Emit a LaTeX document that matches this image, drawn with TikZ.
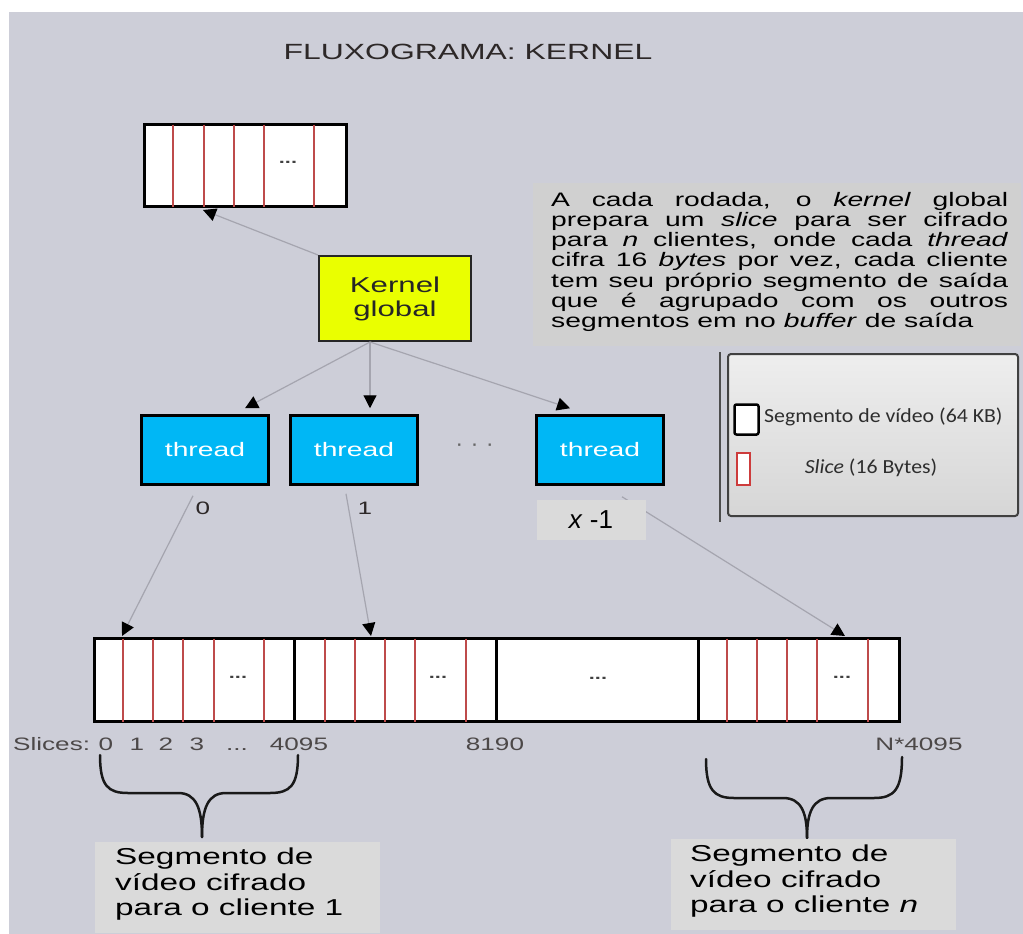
\documentclass[tikz,border=0pt]{standalone}
\usepackage{fontspec}
\setmainfont{Liberation Sans}
\newfontfamily\sw[FakeStretch=1.45]{Liberation Sans}
\newfontfamily\calfont[FakeStretch=1.09]{Carlito}
\usetikzlibrary{arrows.meta,calc}
\definecolor{bgc}{RGB}{205,206,216}
\definecolor{parac}{RGB}{208,208,208}
\definecolor{lboxc}{RGB}{218,218,218}
\definecolor{redl}{RGB}{190,75,75}
\definecolor{linec}{RGB}{165,165,175}
\definecolor{thc}{RGB}{0,183,245}
\definecolor{kerc}{RGB}{234,255,0}
\definecolor{txtc}{RGB}{45,40,40}
\tolerance=10000 \hbadness=10000
\begin{document}
\begin{tikzpicture}[x=1pt,y=-1pt,
  conn/.style={draw=linec, line width=1.2pt, -{Triangle[length=13pt,width=13pt,color=black]}},
  segbox/.style={draw=black, line width=3pt, fill=white, minimum width=#1, minimum height=83pt, inner sep=0pt, anchor=north west},
  redline/.style={draw=redl, line width=2.5pt},
  dotlbl/.style={font=\sw\bfseries\fontsize{15}{18}\selectfont, text=black!75, inner sep=0pt},
  thbox/.style={draw=black, line width=2.5pt, fill=thc, minimum width=127pt, minimum height=69pt, inner sep=0pt, text=white, font=\sw\fontsize{19.5}{22}\selectfont},
  rowlbl/.style={font=\sw\fontsize{18}{20}\selectfont, text=txtc!85!white, anchor=base, inner sep=0pt},
  brace/.style={draw=black!90, line width=2.5pt, line cap=round},
  cbox/.style={fill=lboxc, anchor=north west, minimum width=285pt, minimum height=91pt, inner sep=0pt},
  ctext/.style={anchor=north west, align=left, inner sep=0pt, font=\sw\fontsize{23}{25.5}\selectfont, text=black}
]
\useasboundingbox (0,0) rectangle (1023,934);
\fill[bgc] (9,12) rectangle (1023,934);

% title
\node[font=\sw\fontsize{22}{26}\selectfont, text=txtc] (title) at (468,52) {FLUXOGRAMA: KERNEL};

% top slice buffer
\node[segbox=202pt, minimum height=82pt] (top) at (143,123) {};
\foreach \x in {30,61,91,121,171}
  \draw[redline] ($(top.north west)+(\x,1.5)$) -- ($(top.south west)+(\x,-1.5)$);
\node[dotlbl] (topdots) at ($(top.west)+(145,-3)$) {...};

% kernel
\node[draw=black!85, line width=2pt, fill=kerc, minimum width=152pt, minimum height=85pt, inner sep=0pt, align=center, text=black!85, font=\sw\fontsize{21.5}{24}\selectfont] (kernel) at (395,298.5) {Kernel\\global};

% threads
\node[thbox] (t0) at (205,450) {thread};
\node[thbox] (t1) at (354,450) {thread};
\node[thbox] (t2) at (600,450) {thread};
\node[font=\bfseries\fontsize{16}{18}\selectfont, text=black!60] (tdots) at (475,447) {·\hspace{10pt}·\hspace{10pt}·};

% bottom segments
\node[segbox=200pt] (s1) at (93,637) {};
\node[segbox=202pt] (s2) at (293,637) {};
\node[segbox=202pt] (s3) at (495,637) {};
\node[segbox=201pt] (s4) at (697,637) {};
\foreach \x in {30,60,90,121,171}
  \draw[redline] ($(s1.north west)+(\x,1.5)$) -- ($(s1.south west)+(\x,-1.5)$);
\foreach \x in {32,62,92,122,173}
  \draw[redline] ($(s2.north west)+(\x,1.5)$) -- ($(s2.south west)+(\x,-1.5)$);
\foreach \x in {30,60,90,120,171}
  \draw[redline] ($(s4.north west)+(\x,1.5)$) -- ($(s4.south west)+(\x,-1.5)$);
\node[dotlbl] (d1) at ($(s1.west)+(145,-3)$) {...};
\node[dotlbl] (d2) at ($(s2.west)+(145,-3)$) {...};
\node[dotlbl] (d3) at ($(s3.west)+(103,-2)$) {...};
\node[dotlbl] (d4) at ($(s4.west)+(145,-3)$) {...};

% connectors
\coordinate (kbot) at ($(kernel.south)+(-25,0)$);
\draw[conn] (kernel.north west) -- ($(top.south west)+(60,2)$);
\draw[conn] (kbot) -- ($(t0.north)+(40,-6)$);
\draw[conn] (kbot) -- ($(t1.north)+(16,-6)$);
\draw[conn] (kbot) -- ($(t2.north)+(-30,-6)$);
\coordinate (c0) at ($(t0.south)+(-12,10)$);
\coordinate (c1) at ($(t1.south)+(-8,8)$);
\coordinate (c2) at ($(t2.south)+(22,11)$);
\draw[conn] (c0) -- ($(s1.north west)+(29,-1)$);
\draw[conn] (c1) -- ($(s2.north west)+(78,-1)$);
\draw[conn] (c2) -- ($(s4.north west)+(148,-1)$);

% thread index labels
\node[font=\sw\fontsize{18}{20}\selectfont, text=txtc] (l0) at (203,508) {0};
\node[font=\sw\fontsize{18}{20}\selectfont, text=txtc] (l1) at (365,508) {1};
\node[fill=lboxc, minimum width=109pt, minimum height=40pt, inner sep=0pt, font=\fontsize{26}{28}\selectfont, text=black] (xl) at (591,520) {\textit{x} -1};

% slice indices
\node[rowlbl, anchor=base west] (slabel) at (13,750) {Slices:};
\node[rowlbl] (i0) at (106,750) {0};
\node[rowlbl] (i1) at (137,750) {1};
\node[rowlbl] (i2) at (166,750) {2};
\node[rowlbl] (i3) at (197,750) {3};
\node[rowlbl] (idots) at (237,750) {...};
\node[rowlbl] (i4095) at (299,750) {4095};
\node[rowlbl] (i8190) at (495,750) {8190};
\node[rowlbl] (iN) at (919,750) {N*4095};

% braces
\draw[brace] (100,755) .. controls (100,786) and (108,793) .. (128,793) -- (178,793) .. controls (196,793) and (202,808) .. (202,837);
\draw[brace] (298,755) .. controls (298,786) and (290,793) .. (270,793) -- (226,793) .. controls (208,793) and (202,808) .. (202,837);
\draw[brace] (706,759) .. controls (706,790) and (714,798) .. (734,798) -- (783,798) .. controls (801,798) and (807,812) .. (807,838);
\draw[brace] (902,757) .. controls (902,790) and (894,798) .. (874,798) -- (831,798) .. controls (813,798) and (807,812) .. (807,838);

% bottom captions
\node[cbox] (cb1) at (95,842) {};
\node[ctext] (ct1) at (115,848) {Segmento de\\vídeo cifrado\\para o cliente 1};
\node[cbox] (cb2) at (671,839) {};
\node[ctext] (ct2) at (690,845) {Segmento de\\vídeo cifrado\\para o cliente \textit{n}};

% paragraph
\node[fill=parac, anchor=north west, minimum width=488pt, minimum height=163pt, inner sep=0pt] (parabg) at (533,183) {};
\node[anchor=north west, inner sep=0pt, text width=457pt, align=justify, text=black, font=\sw\fontsize{19.5}{20.2}\selectfont] (para) at (551,192) {A cada rodada, o \textit{kernel} global\linebreak prepara um \textit{slice} para ser cifrado\linebreak para \textit{n} clientes, onde cada \textit{thread}\linebreak cifra 16 \textit{bytes} por vez, cada cliente\linebreak tem seu próprio segmento de saída\linebreak que é agrupado com os outros\linebreak segmentos em no \textit{buffer} de saída};

% legend
\draw[line width=2.2pt, draw=black!70] (720,352) -- (720,522);
\node[draw=black!75, line width=2pt, rounded corners=3pt, top color={rgb,255:red,238;green,238;blue,238}, bottom color={rgb,255:red,214;green,214;blue,214}, minimum width=290pt, minimum height=162pt, inner sep=0pt, anchor=north west] (leg) at (727,353) {};
\node[draw=black, line width=2.5pt, fill=white, rounded corners=2pt, minimum width=24pt, minimum height=30pt, inner sep=0pt] (kseg) at (746.5,419.5) {};
\node[draw={rgb,255:red,205;green,60;blue,60}, line width=2pt, fill=white, minimum width=13pt, minimum height=32pt, inner sep=0pt] (kslice) at (743,468.5) {};
\node[anchor=west, inner sep=0pt, font=\calfont\fontsize{20}{24}\selectfont, text=black!82] (lt1) at (764,417) {Segmento de vídeo (64 KB)};
\node[inner sep=0pt, font=\calfont\fontsize{20}{24}\selectfont, text=black!82] (lt2) at (871,468) {\textit{Slice} (16 Bytes)};
\end{tikzpicture}
\end{document}
